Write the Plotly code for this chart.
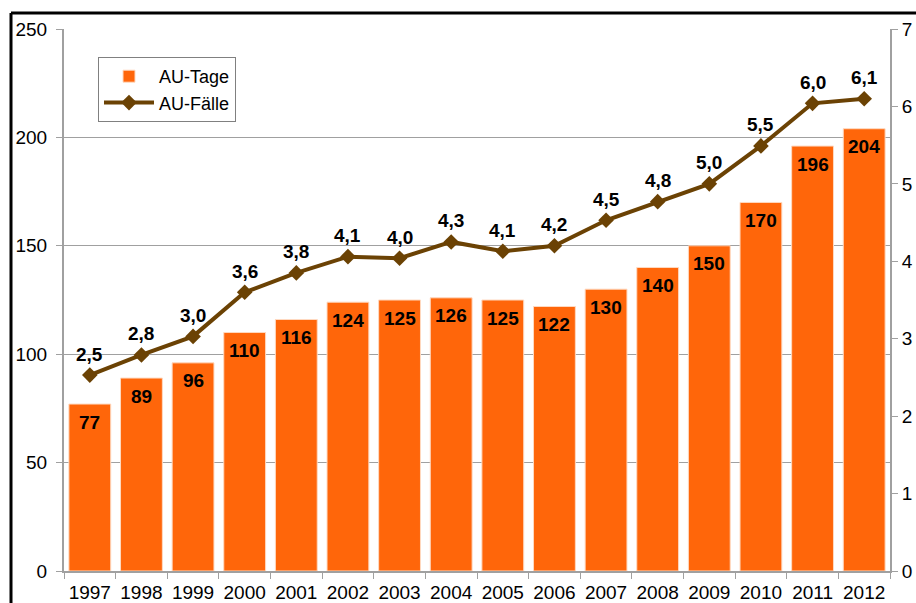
import plotly.graph_objects as go

years = ["1997", "1998", "1999", "2000", "2001", "2002", "2003", "2004",
         "2005", "2006", "2007", "2008", "2009", "2010", "2011", "2012"]
au_tage = [77, 89, 96, 110, 116, 124, 125, 126, 125, 122, 130, 140, 150, 170, 196, 204]
au_faelle = [2.53, 2.79, 3.03, 3.60, 3.85, 4.06, 4.04, 4.25, 4.13, 4.20, 4.53, 4.77, 5.00, 5.49, 6.04, 6.10]
au_faelle_labels = ["2,5", "2,8", "3,0", "3,6", "3,8", "4,1", "4,0", "4,3",
                    "4,1", "4,2", "4,5", "4,8", "5,0", "5,5", "6,0", "6,1"]

BAR = "#FF660A"
LINE = "#6B4204"
GRID = "#A0A0A0"
FONT = "Liberation Sans, Arial, sans-serif"

fig = go.Figure()
fig.add_trace(go.Bar(
    x=years, y=au_tage, name="AU-Tage",
    marker=dict(color=BAR, line=dict(color="#FFD9C0", width=1)),
    yaxis="y",
))
fig.add_trace(go.Scatter(
    x=years, y=au_faelle, name="AU-Fälle", mode="lines+markers",
    line=dict(color=LINE, width=4),
    marker=dict(symbol="diamond", size=12, color=LINE),
    yaxis="y2", cliponaxis=False,
))

annotations = []
for i, v in enumerate(au_tage):
    annotations.append(dict(
        x=i, y=v, xref="x", yref="y", text="<b>%d</b>" % v, showarrow=False,
        yshift=-18, font=dict(family=FONT, size=19, color="black"),
    ))
for i, (v, lab) in enumerate(zip(au_faelle, au_faelle_labels)):
    annotations.append(dict(
        x=i, y=v, xref="x", yref="y2", text="<b>%s</b>" % lab, showarrow=False,
        yshift=21, font=dict(family=FONT, size=19, color="black"),
    ))

L, R, T, B = 64, 890, 29, 571
W, H = 916, 603
pw, ph = R - L, B - T

def px(x):
    return (x - L) / pw

def py(y):
    return (B - y) / ph

fig.update_layout(
    width=W, height=H,
    margin=dict(l=L, r=W - R, t=T, b=H - B, pad=0),
    paper_bgcolor="white", plot_bgcolor="white",
    font=dict(family=FONT, size=19, color="black"),
    bargap=0.19,
    showlegend=True,
    annotations=annotations,
    legend=dict(
        x=px(98), y=py(57), xanchor="left", yanchor="top",
        bordercolor="#808080", borderwidth=1, bgcolor="white",
        font=dict(family=FONT, size=18, color="black"),
        itemwidth=50, tracegroupgap=0,
    ),
    xaxis=dict(
        type="category", tickson="boundaries", ticks="outside", ticklen=6,
        tickcolor=GRID, showline=True, linecolor=GRID, linewidth=2,
        showgrid=False, tickfont=dict(size=19), range=[-0.5, 15.5],
        automargin=False, tickangle=0, ticklabelstandoff=3,
    ),
    yaxis=dict(
        range=[0, 250], dtick=50, ticks="outside", ticklen=6, tickcolor=GRID,
        showline=True, linecolor=GRID, linewidth=2,
        showgrid=True, gridcolor=GRID, gridwidth=1, zeroline=False,
        tickfont=dict(size=19), automargin=False, ticklabelstandoff=5,
    ),
    yaxis2=dict(
        range=[0, 7], dtick=1, overlaying="y", side="right",
        ticks="outside", ticklen=6, tickcolor=GRID,
        showline=True, linecolor=GRID, linewidth=2,
        showgrid=False, zeroline=False, tickfont=dict(size=19),
        automargin=False,
    ),
    shapes=[
        dict(type="line", xref="paper", yref="paper", x0=px(11), x1=px(W + 5),
             y0=py(13), y1=py(13), line=dict(color="black", width=3)),
        dict(type="line", xref="paper", yref="paper", x0=px(11), x1=px(11),
             y0=py(13), y1=py(H + 5), line=dict(color="black", width=3)),
    ],
)

fig.write_html("out.html", config={"displayModeBar": False},
               post_script="document.body.style.margin='0';document.body.style.padding='0';")
